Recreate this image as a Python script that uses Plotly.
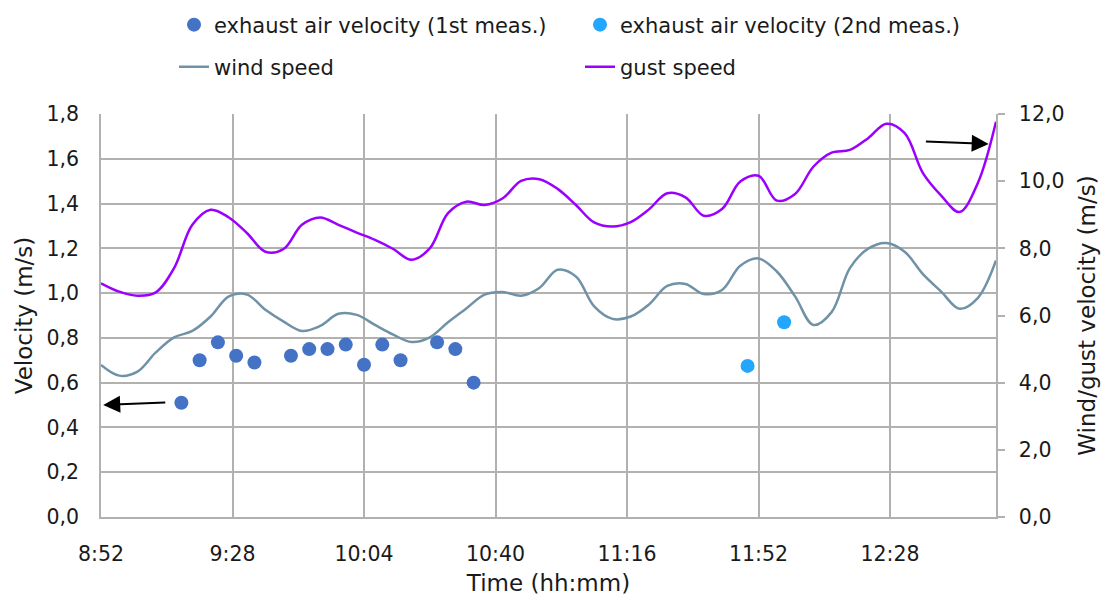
import plotly.graph_objects as go

# Exhaust air velocity, 1st measurement run (left axis, m/s)
meas1_times = ["9:14", "9:19", "9:24", "9:29", "9:34", "9:44", "9:49", "9:54",
               "9:59", "10:04", "10:09", "10:14", "10:24", "10:29", "10:34"]
meas1_vel = [0.51, 0.70, 0.78, 0.72, 0.69, 0.72, 0.75, 0.75,
             0.77, 0.68, 0.77, 0.70, 0.78, 0.75, 0.60]

# Exhaust air velocity, 2nd measurement run (left axis, m/s)
meas2_times = ["11:49", "11:59"]
meas2_vel = [0.675, 0.87]

# Weather station record, 5-minute steps from 8:52 to 12:57 (right axis, m/s)
weather_start = "8:52"
weather_step_min = 5
wind_speed = [4.53, 4.21, 4.33, 4.90, 5.35, 5.54, 5.97, 6.57, 6.62, 6.17,
              5.82, 5.54, 5.69, 6.05, 6.02, 5.72, 5.43, 5.21, 5.35, 5.80,
              6.21, 6.62, 6.70, 6.59, 6.82, 7.36, 7.16, 6.27, 5.90, 5.97,
              6.33, 6.88, 6.94, 6.64, 6.76, 7.48, 7.70, 7.31, 6.57, 5.72,
              6.10, 7.41, 7.99, 8.16, 7.90, 7.23, 6.71, 6.20, 6.52, 7.64]
gust_speed = [6.96, 6.71, 6.59, 6.69, 7.41, 8.70, 9.15, 8.92, 8.45, 7.90,
              7.98, 8.70, 8.92, 8.70, 8.47, 8.25, 7.98, 7.66, 8.00, 9.05,
              9.39, 9.29, 9.49, 10.01, 10.06, 9.77, 9.29, 8.77, 8.65, 8.78,
              9.16, 9.64, 9.52, 8.97, 9.17, 9.99, 10.16, 9.42, 9.62, 10.43,
              10.85, 10.93, 11.28, 11.71, 11.43, 10.24, 9.57, 9.08, 9.94, 11.77]

x_tick_labels = ["8:52", "9:28", "10:04", "10:40", "11:16", "11:52", "12:28"]
x_range = ["8:52", "12:57"]


def minutes(hhmm):
    h, m = hhmm.split(":")
    return int(h) * 60 + int(m)


t0 = minutes(weather_start)
weather_x = [t0 + i * weather_step_min for i in range(len(wind_speed))]

FONT = "DejaVu Sans"
TXT = "#1a1a1a"
GRID = "#b3b0b0"
W, H = 1103, 596

fig = go.Figure()

fig.add_trace(go.Scatter(
    x=[minutes(t) for t in meas1_times], y=meas1_vel, mode="markers",
    name="exhaust air velocity (1st meas.)",
    marker=dict(color="#4472c4", size=14), legend="legend"))
fig.add_trace(go.Scatter(
    x=[minutes(t) for t in meas2_times], y=meas2_vel, mode="markers",
    name="exhaust air velocity (2nd meas.)",
    marker=dict(color="#22a6fe", size=14), legend="legend2"))
fig.add_trace(go.Scatter(
    x=weather_x, y=wind_speed, mode="lines", name="wind speed", yaxis="y2",
    line=dict(color="#7092a6", width=2.5, shape="spline", smoothing=1),
    legend="legend3"))
fig.add_trace(go.Scatter(
    x=weather_x, y=gust_speed, mode="lines", name="gust speed", yaxis="y2",
    line=dict(color="#9b00ff", width=2.5, shape="spline", smoothing=1),
    legend="legend4"))

# Arrows pointing each group of series to its axis
fig.add_annotation(x=minutes("8:52") + 0.6, y=0.50, ax=minutes("9:10"), ay=0.512,
                   xref="x", yref="y", axref="x", ayref="y", text="",
                   showarrow=True, arrowhead=2, arrowsize=1.7, arrowwidth=2,
                   arrowcolor="black")
fig.add_annotation(x=minutes("12:55"), y=11.11, ax=minutes("12:37") + 0.4, ay=11.18,
                   xref="x", yref="y2", axref="x", ayref="y2", text="",
                   showarrow=True, arrowhead=2, arrowsize=1.7, arrowwidth=2,
                   arrowcolor="black")


def legend_box(left_px, mid_px):
    # one legend entry, placed in pixel terms on the page
    return dict(orientation="h",
                font=dict(family=FONT, size=21, color=TXT),
                bgcolor="rgba(0,0,0,0)", borderwidth=0,
                xref="container", yref="container",
                xanchor="left", yanchor="middle",
                x=left_px / W, y=1 - mid_px / H, itemclick=False)


fig.update_layout(
    width=W, height=H, autosize=False,
    margin=dict(l=101, r=107, t=114, b=79),
    paper_bgcolor="white", plot_bgcolor="white",
    separators=", ",
    showlegend=True,
    font=dict(family=FONT, size=20.5, color=TXT),
    legend=legend_box(174, 25),
    legend2=legend_box(580, 25),
    legend3=legend_box(174, 67),
    legend4=legend_box(580, 67),
    xaxis=dict(
        range=[minutes(x_range[0]), minutes(x_range[1])],
        tickvals=[minutes(t) for t in x_tick_labels], ticktext=x_tick_labels,
        showgrid=True, gridcolor=GRID, gridwidth=1.5,
        showline=True, linecolor=GRID, linewidth=1.5,
        zeroline=False, ticks="", ticklabelstandoff=18, automargin=False,
        tickfont=dict(size=20.5),
        title=dict(text="Time (hh:mm)", font=dict(size=23), standoff=12),
    ),
    yaxis=dict(
        range=[0, 1.8], dtick=0.2, tick0=0, tickformat=".1f",
        showgrid=True, gridcolor=GRID, gridwidth=1.5,
        showline=True, linecolor=GRID, linewidth=1.5,
        zeroline=False, ticks="", ticklabelstandoff=16, automargin=False,
        tickfont=dict(size=20.5),
        title=dict(text="Velocity (m/s)", font=dict(size=23), standoff=7),
    ),
    yaxis2=dict(
        range=[0, 12], dtick=2, tick0=0, tickformat=".1f",
        overlaying="y", side="right", showgrid=False,
        showline=True, linecolor=GRID, linewidth=1.5, zeroline=False,
        ticks="outside", ticklen=7, tickwidth=1.5, tickcolor=GRID,
        ticklabelstandoff=10, automargin=False, tickfont=dict(size=20.5),
        title=dict(text="Wind/gust velocity (m/s)", font=dict(size=23), standoff=15),
    ),
)

fig.write_html("out.html", config={"displayModeBar": False})
